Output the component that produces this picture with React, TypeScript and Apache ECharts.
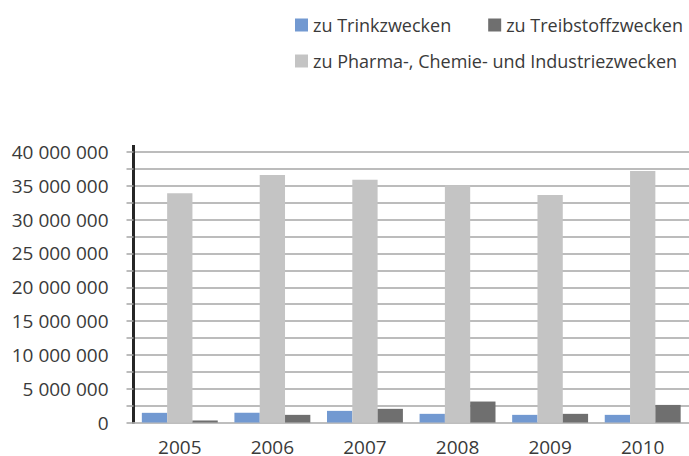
import React, { useEffect, useRef } from "react";
import * as echarts from "echarts";

const categories = ["2005", "2006", "2007", "2008", "2009", "2010"];
const trink = [1430000, 1430000, 1720000, 1280000, 1130000, 1130000];
const treib = [300000, 1130000, 2020000, 3100000, 1280000, 2600000];
const pharma = [33900000, 36600000, 35900000, 35100000, 33650000, 37200000];

const seriesNames = [
  "zu Trinkzwecken",
  "zu Treibstoffzwecken",
  "zu Pharma-, Chemie- und Industriezwecken",
];
const colors = ["#7299d1", "#6f6f6f", "#c4c4c4"];

function fmt(v: number): string {
  return String(Math.round(v)).replace(/\B(?=(\d{3})+(?!\d))/g, " ");
}

export default function App() {
  const ref = useRef<HTMLDivElement>(null);
  useEffect(() => {
    if (!ref.current) return;
    const chart = echarts.init(ref.current, undefined, { renderer: "svg" });
    const font = "'Open Sans', 'Noto Sans', sans-serif";
    chart.setOption({
      animation: false,
      textStyle: { fontFamily: font },
      legend: [
        {
          data: [seriesNames[0], seriesNames[1]],
          left: 290,
          top: 11,
          itemWidth: 13,
          itemHeight: 13,
          itemGap: 37,
          icon: "rect",
          textStyle: { fontSize: 18, color: "#3a3a3a", fontFamily: font },
        },
        {
          data: [seriesNames[2]],
          left: 290,
          top: 47,
          itemWidth: 13,
          itemHeight: 13,
          icon: "rect",
          textStyle: { fontSize: 18, color: "#3a3a3a", fontFamily: font },
        },
      ],
      grid: { left: 133.5, top: 152, width: 564.6, bottom: 33, containLabel: false },
      graphic: [
        {
          type: "line",
          shape: { x1: 133.5, y1: 145, x2: 133.5, y2: 153 },
          style: { stroke: "#262626", lineWidth: 3 },
        },
      ],
      xAxis: {
        type: "category",
        data: categories,
        axisLine: { lineStyle: { color: "#bfbfbf", width: 1.5 } },
        axisTick: { show: false },
        axisLabel: { fontSize: 19, lineHeight: 16, color: "#3a3a3a", margin: 16, fontFamily: font },
      },
      yAxis: {
        type: "value",
        min: 0,
        max: 40000000,
        interval: 2500000,
        axisLine: { show: true, lineStyle: { color: "#262626", width: 3 } },
        axisTick: { show: true, length: 7, lineStyle: { color: "#a6a6a6", width: 1.5 } },
        splitLine: { lineStyle: { color: "#a6a6a6", width: 1.5 } },
        axisLabel: {
          fontSize: 19,
          color: "#3a3a3a",
          margin: 25,
          fontFamily: font,
          formatter: (v: number) => (v % 5000000 === 0 ? fmt(v) : ""),
        },
      },
      series: [
        { name: seriesNames[0], type: "bar", data: trink, itemStyle: { color: colors[0] }, barGap: "0%", barCategoryGap: "18%" },
        { name: seriesNames[2], type: "bar", data: pharma, itemStyle: { color: colors[2] }, barGap: "0%", barCategoryGap: "18%" },
        { name: seriesNames[1], type: "bar", data: treib, itemStyle: { color: colors[1] }, barGap: "0%", barCategoryGap: "18%" },
      ],
    });
    return () => chart.dispose();
  }, []);
  return <div ref={ref} style={{ width: 689, height: 456, position: "absolute", left: 0, top: 0 }} />;
}
